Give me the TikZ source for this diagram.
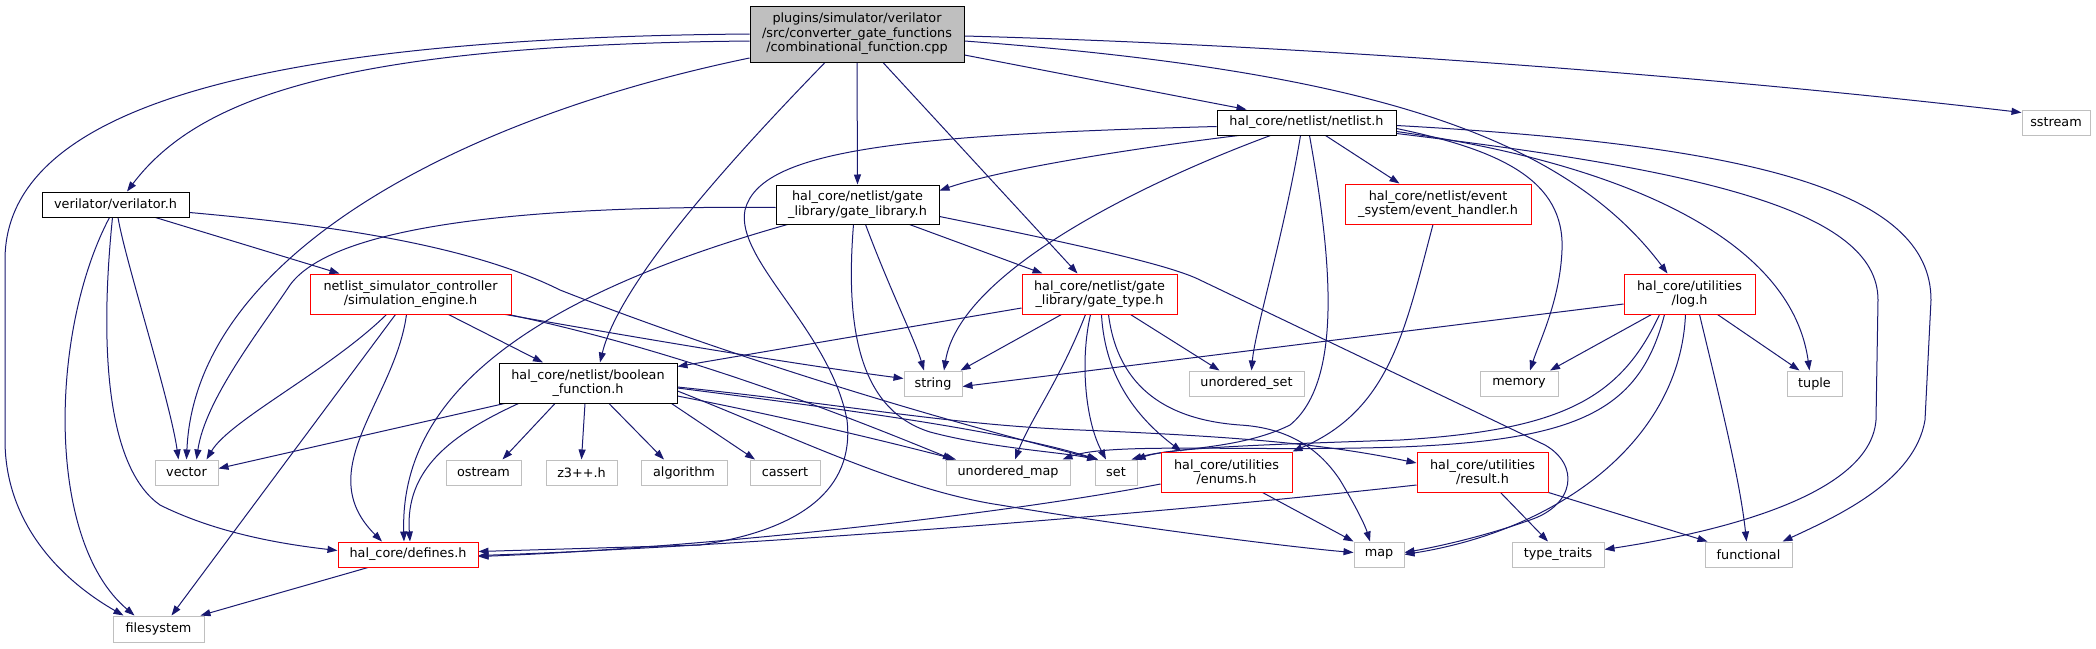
\documentclass[tikz,border=0pt]{standalone}
\usepackage{fontspec}
\setmainfont{DejaVu Sans}
\usetikzlibrary{arrows.meta,calc}
\definecolor{eblue}{HTML}{191970}
\definecolor{gry}{HTML}{BFBFBF}
\definecolor{rdb}{HTML}{FF0000}
\pgfdeclarelayer{bg}
\pgfsetlayers{bg,main}
\tikzset{
  nd/.style={fill=white, line width=1pt, inner sep=0pt, align=center, text=black,
    font=\fontsize{12.8}{14.5}\selectfont},
  gr/.style={nd, draw=gry, minimum height=25pt},
  rd/.style={nd, draw=rdb},
  bk/.style={nd, draw=black},
  e/.style={draw=eblue, line width=1pt, -{Triangle[length=10pt,width=7pt]}},
}
\begin{document}
\begin{tikzpicture}[x=1pt,y=-1pt]
\useasboundingbox (0,0) rectangle (2096,648);
% nodes
\node[bk, fill=gry, minimum width=214pt, minimum height=56pt] (root) at (857,34) {plugins/simulator/verilator\\/src/converter\_gate\_functions\\/combinational\_function.cpp};
\node[bk, minimum width=147pt, minimum height=25pt] (veri) at (115.5,204.5) {verilator/verilator.h};
\node[bk, minimum width=179pt, minimum height=25pt] (netl) at (1306.5,122.5) {hal\_core/netlist/netlist.h};
\node[gr, minimum width=68pt] (sstr) at (2056,122.5) {sstream};
\node[bk, minimum width=163pt, minimum height=39pt] (glib) at (857.5,204.5) {hal\_core/netlist/gate\\\_library/gate\_library.h};
\node[rd, minimum width=186pt, minimum height=40pt] (evh) at (1438,204) {hal\_core/netlist/event\\\_system/event\_handler.h};
\node[rd, minimum width=201pt, minimum height=40pt] (sim) at (410.5,294) {netlist\_simulator\_controller\\/simulation\_engine.h};
\node[rd, minimum width=155pt, minimum height=40pt] (gtype) at (1099.5,294) {hal\_core/netlist/gate\\\_library/gate\_type.h};
\node[rd, minimum width=131pt, minimum height=40pt] (log) at (1689.5,294) {hal\_core/utilities\\/log.h};
\node[bk, minimum width=178pt, minimum height=40pt] (bool) at (588,383) {hal\_core/netlist/boolean\\\_function.h};
\node[gr, minimum width=58pt] (str) at (933,383.5) {string};
\node[gr, minimum width=115pt] (uset) at (1246.5,383.5) {unordered\_set};
\node[gr, minimum width=78pt] (mem) at (1519,383.5) {memory};
\node[gr, minimum width=55pt] (tup) at (1814.5,383.5) {tuple};
\node[gr, minimum width=63pt] (vec) at (186.5,472.5) {vector};
\node[gr, minimum width=75pt] (ost) at (483.5,472.5) {ostream};
\node[gr, minimum width=71pt] (zthree) at (581.5,472.5) {z3++.h};
\node[gr, minimum width=86pt] (alg) at (684,472.5) {algorithm};
\node[gr, minimum width=70pt] (cas) at (785,472.5) {cassert};
\node[gr, minimum width=124pt] (umap) at (1008,472.5) {unordered\_map};
\node[gr, minimum width=42pt] (setn) at (1116,472.5) {set};
\node[rd, minimum width=131pt, minimum height=40pt] (enums) at (1226.5,472) {hal\_core/utilities\\/enums.h};
\node[rd, minimum width=131pt, minimum height=40pt] (res) at (1482.5,472) {hal\_core/utilities\\/result.h};
\node[rd, minimum width=140pt, minimum height=25pt] (defs) at (408,554.5) {hal\_core/defines.h};
\node[gr, minimum width=50pt] (map) at (1379,554.5) {map};
\node[gr, minimum width=92pt] (tt) at (1558,554.5) {type\_traits};
\node[gr, minimum width=87pt] (func) at (1748.5,554.5) {functional};
\node[gr, minimum width=91pt, minimum height=26pt] (fs) at (158.5,629) {filesystem};
% edges
\begin{pgfonlayer}{bg}
\fill[white] (0,0) rectangle (2096,648);
% root
\draw[e] (root.west) .. controls (250,38) and (5,110) .. (5,260) -- (5,440) .. controls (5,530) and (70,585) .. ($(fs.north)+(-35,0)$);
\draw[e] ($(root.west)+(0,7)$) .. controls (350,45) and (200,95) .. ($(veri.north)+(11.5,0)$);
\draw[e] ($(root.west)+(0,24)$) .. controls (450,120) and (195,260) .. (vec.north);
\draw[e] ($(root.south)+(-32,0)$) .. controls (740,150) and (620,280) .. ($(bool.north)+(12,0)$);
\draw[e] (root.south) -- (glib.north);
\draw[e] ($(root.south)+(26,0)$) -- ($(gtype.north)+(-22,0)$);
\draw[e] ($(root.east)+(0,21)$) -- ($(netl.north)+(-60,0)$);
\draw[e] ($(root.east)+(0,2)$) .. controls (1300,45) and (1700,75) .. ($(sstr.west)+(0,-10)$);
\draw[e] ($(root.east)+(0,7)$) .. controls (1350,70) and (1560,130) .. ($(log.north)+(-22,0)$);
% verilator
\draw[e] ($(veri.south)+(40,0)$) -- ($(sim.north)+(-71,0)$);
\draw[e] ($(veri.south)+(2.5,0)$) .. controls (125,260) and (170,400) .. ($(vec.north)+(-8,0)$);
\draw[e] ($(veri.south)+(-6,0)$) .. controls (50,330) and (45,540) .. ($(fs.north)+(-24,0)$);
\draw[e] ($(veri.south)+(-3,0)$) .. controls (98,360) and (110,470) .. (160,505) .. controls (220,535) and (290,545) .. ($(defs.west)+(0,-4)$);
\draw[e] ($(veri.east)+(0,8)$) .. controls (330,225) and (470,245) .. (560,290) .. controls (700,345) and (900,410) .. ($(setn.north)+(-18,0)$);
% simulation engine
\draw[e] ($(sim.south)+(-24,0)$) .. controls (330,370) and (230,420) .. ($(vec.north)+(20,0)$);
\draw[e] ($(sim.south)+(-15,0)$) -- ($(fs.north)+(13,0)$);
\draw[e] ($(sim.south)+(-4,0)$) .. controls (395,400) and (310,470) .. ($(defs.north)+(-26,0)$);
\draw[e] ($(sim.south)+(38,0)$) -- ($(bool.north)+(-45,0)$);
\draw[e] ($(sim.south east)+(-6,0)$) .. controls (650,340) and (800,365) .. ($(str.west)+(0,-5)$);
\draw[e] ($(sim.south east)+(-3,0)$) .. controls (700,355) and (880,430) .. ($(umap.north)+(-55,0)$);
% gate library
\draw[e] ($(glib.west)+(0,3)$) .. controls (500,205) and (330,230) .. (290,285) .. controls (260,330) and (205,400) .. ($(vec.north)+(10,0)$);
\draw[e] ($(glib.south)+(-70,0)$) .. controls (520,300) and (400,400) .. ($(defs.north)+(-4,0)$);
\draw[e] ($(glib.south)+(52,0)$) -- ($(gtype.north)+(-57,0)$);
\draw[e] ($(glib.south)+(8,0)$) .. controls (890,290) and (915,340) .. ($(str.north)+(-9,0)$);
\draw[e] ($(glib.south)+(-4,0)$) .. controls (845,330) and (860,410) .. (930,432) .. controls (990,448) and (1060,452) .. ($(setn.north)+(-19,0)$);
\draw[e] ($(glib.east)+(0,12)$) .. controls (1080,245) and (1170,265) .. (1200,280) -- (1545,445) .. controls (1580,465) and (1575,505) .. (1530,520) .. controls (1480,538) and (1430,548) .. ($(map.east)+(0,-2)$);
% netlist
\draw[e] ($(netl.south)+(-68,0)$) .. controls (1120,150) and (1000,170) .. ($(glib.east)+(0,-14)$);
\draw[e] ($(netl.west)+(0,4)$) .. controls (900,135) and (760,150) .. (745,210) .. controls (735,260) and (830,330) .. (847,420) .. controls (855,490) and (800,530) .. (700,545) -- ($(defs.east)+(0,-3)$);
\draw[e] ($(netl.south)+(-36,0)$) .. controls (1150,180) and (960,270) .. ($(str.north)+(11,0)$);
\draw[e] ($(netl.south)+(-6,0)$) .. controls (1285,230) and (1255,330) .. ($(uset.north)+(5,0)$);
\draw[e] ($(netl.south)+(3,0)$) .. controls (1330,250) and (1345,380) .. (1290,425) .. controls (1240,450) and (1170,448) .. ($(setn.north east)+(-6,0)$);
\draw[e] ($(netl.south)+(19,0)$) -- ($(evh.north west)+(55,0)$);
\draw[e] ($(netl.east)+(0,6)$) .. controls (1500,150) and (1565,180) .. (1562,250) .. controls (1560,300) and (1540,340) .. ($(mem.north)+(11,0)$);
\draw[e] ($(netl.east)+(0,9)$) .. controls (1600,160) and (1790,230) .. ($(tup.north)+(-5,0)$);
\draw[e] ($(netl.east)+(0,11)$) .. controls (1700,170) and (1878,210) .. (1878,300) -- (1876,420) .. controls (1870,500) and (1700,535) .. ($(tt.east)+(0,-5)$);
\draw[e] ($(netl.east)+(0,3)$) .. controls (1750,145) and (1931,190) .. (1931,300) -- (1925,420) .. controls (1915,480) and (1840,515) .. ($(func.north east)+(-10,0)$);
% event handler
\draw[e] ($(evh.south)+(-5,0)$) .. controls (1405,330) and (1390,410) .. (enums.north east);
% gate type
\draw[e] ($(gtype.west)+(0,14)$) -- ($(bool.north east)+(0,4)$);
\draw[e] ($(gtype.south)+(-38,0)$) -- ($(str.north east)+(-2,0)$);
\draw[e] ($(gtype.south)+(31,0)$) -- ($(uset.north)+(-27,0)$);
\draw[e] ($(gtype.south)+(-14,0)$) .. controls (1060,380) and (1030,420) .. ($(umap.north)+(7,0)$);
\draw[e] ($(gtype.south)+(-9,0)$) .. controls (1080,360) and (1085,420) .. ($(setn.north)+(-10,0)$);
\draw[e] ($(gtype.south)+(2,0)$) .. controls (1105,380) and (1140,420) .. ($(enums.north)+(-45,0)$);
\draw[e] ($(gtype.south)+(9,0)$) .. controls (1118,390) and (1170,420) .. (1240,425) .. controls (1290,428) and (1320,450) .. (1340,480) .. controls (1355,505) and (1365,525) .. ($(map.north)+(-9,0)$);
% boolean function
\draw[e] ($(bool.south west)+(6,0)$) -- ($(vec.east)+(0,-4)$);
\draw[e] ($(bool.south west)+(20,0)$) .. controls (450,435) and (405,470) .. ($(defs.north)+(2,0)$);
\draw[e] ($(bool.south)+(-33,0)$) -- ($(ost.north)+(19,0)$);
\draw[e] ($(bool.south)+(-3,0)$) -- (zthree.north);
\draw[e] ($(bool.south)+(21,0)$) -- ($(alg.north)+(-20,0)$);
\draw[e] ($(bool.south east)+(-6,0)$) -- ($(cas.north)+(-30,0)$);
\draw[e] ($(bool.east)+(0,13)$) .. controls (800,420) and (900,445) .. ($(umap.north)+(-52,0)$);
\draw[e] ($(bool.east)+(0,5)$) .. controls (850,410) and (1000,430) .. ($(setn.north)+(-18,0)$);
\draw[e] ($(bool.east)+(0,4)$) .. controls (850,405) and (950,425) .. (1080,430) .. controls (1250,437) and (1330,445) .. ($(res.west)+(0,-9)$);
\draw[e] ($(bool.east)+(0,8)$) .. controls (790,435) and (900,490) .. (1000,505) .. controls (1150,530) and (1300,548) .. ($(map.west)+(0,-2)$);
% enums, result, defines
\draw[e] ($(enums.west)+(0,12)$) .. controls (1000,515) and (700,548) .. ($(defs.east)+(0,2)$);
\draw[e] ($(enums.south)+(36,0)$) -- (map.north west);
\draw[e] ($(res.west)+(0,13)$) .. controls (1100,520) and (700,548) .. ($(defs.east)+(0,1)$);
\draw[e] ($(res.south)+(18,0)$) -- ($(tt.north)+(-10,0)$);
\draw[e] (res.south east) -- ($(func.north west)+(3,0)$);
\draw[e] ($(defs.south)+(-40,0)$) -- ($(fs.north east)+(-4,0)$);
% log
\draw[e] ($(log.west)+(0,10)$) -- ($(str.east)+(0,3)$);
\draw[e] ($(log.south)+(-38,0)$) -- ($(mem.north)+(31,0)$);
\draw[e] ($(log.south)+(28,0)$) -- ($(tup.north)+(-15,0)$);
\draw[e] ($(log.south)+(10,0)$) .. controls (1720,400) and (1740,480) .. ($(func.north)+(-2,0)$);
\draw[e] ($(log.south)+(-4,0)$) .. controls (1680,440) and (1560,530) .. (map.east);
\draw[e] ($(log.south)+(-30,0)$) .. controls (1620,400) and (1560,430) .. (1400,440) .. controls (1250,445) and (1170,448) .. ($(setn.north east)+(-2,0)$);
\draw[e] ($(log.south)+(-25,0)$) .. controls (1640,410) and (1580,440) .. (1400,447) .. controls (1250,452) and (1110,442) .. ($(umap.north east)+(-8,0)$);
\end{pgfonlayer}
\end{tikzpicture}
\end{document}
